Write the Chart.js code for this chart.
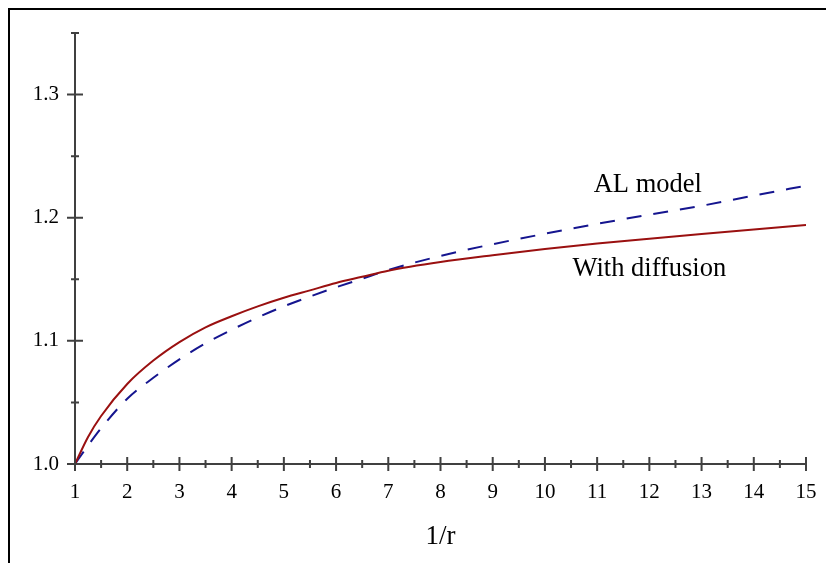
<!DOCTYPE html>
<html>
<head>
<meta charset="utf-8">
<script src="https://cdn.jsdelivr.net/npm/chart.js@4/dist/chart.umd.min.js"></script>
<style>
  html, body { margin: 0; padding: 0; background: #fff; overflow: hidden; }
  #wrap { width: 826px; height: 563px; position: relative; }
</style>
</head>
<body>
<div id="wrap"><canvas id="plot" width="826" height="563"></canvas></div>
<script>
// 1/r values and the two curves
const xValues = [1, 1.25, 1.5, 2, 2.5, 3, 3.5, 4, 4.5, 5, 5.5, 6, 6.5, 7, 8, 9, 10, 11, 12, 13, 14, 15];
const withDiffusion = [1.000, 1.022, 1.039, 1.065, 1.084, 1.099, 1.111, 1.120, 1.128, 1.135, 1.141, 1.147, 1.152, 1.157,
    1.164, 1.1695, 1.1745, 1.179, 1.183, 1.1868, 1.1905, 1.194];
const alModel = [1.000, 1.015, 1.029, 1.053, 1.070, 1.085, 1.098, 1.109, 1.119, 1.128, 1.136, 1.1435, 1.1505, 1.1575,
    1.169, 1.1785, 1.187, 1.195, 1.2025, 1.2097, 1.218, 1.226];

const xTicks = [1, 2, 3, 4, 5, 6, 7, 8, 9, 10, 11, 12, 13, 14, 15];
const xMinorTicks = [1.5, 2.5, 3.5, 4.5, 5.5, 6.5, 7.5, 8.5, 9.5, 10.5, 11.5, 12.5, 13.5, 14.5];
const yTicks = [1.0, 1.1, 1.2, 1.3];
const yMinorTicks = [1.05, 1.15, 1.25, 1.35];

// curve captions, placed in data coordinates
const captions = [
    { text: 'AL model', x: 11.97, y: 1.2268 },
    { text: 'With diffusion', x: 12.0, y: 1.158 }
];

const SERIF = '"Liberation Serif", "DejaVu Serif", Times, serif';
const AXIS_COLOR = '#404040';

const framePlugin = {
    id: 'frame',
    beforeDraw(chart) {
        const ctx = chart.ctx;
        ctx.save();
        ctx.fillStyle = '#fff';
        ctx.fillRect(0, 0, chart.width, chart.height);
        ctx.fillStyle = '#000';
        ctx.fillRect(8, 8, chart.width - 8, 2);
        ctx.fillRect(8, 8, 2, chart.height - 8);
        ctx.restore();
    }
};

// ticks crossing the axes, like the original plot
const crossTicksPlugin = {
    id: 'crossTicks',
    afterDraw(chart) {
        const ctx = chart.ctx;
        const xs = chart.scales.x, ys = chart.scales.y;
        const x0 = xs.getPixelForValue(xTicks[0]);
        const y0 = ys.getPixelForValue(yTicks[0]);
        ctx.save();
        ctx.strokeStyle = AXIS_COLOR;
        ctx.lineWidth = 2;
        ctx.beginPath();
        xTicks.forEach(v => { const p = xs.getPixelForValue(v); ctx.moveTo(p, y0 - 7); ctx.lineTo(p, y0 + 7); });
        xMinorTicks.forEach(v => { const p = xs.getPixelForValue(v); ctx.moveTo(p, y0 - 4); ctx.lineTo(p, y0 + 4); });
        yTicks.forEach(v => { const p = ys.getPixelForValue(v); ctx.moveTo(x0 - 8, p); ctx.lineTo(x0 + 8, p); });
        yMinorTicks.forEach(v => { const p = ys.getPixelForValue(v); ctx.moveTo(x0 - 4, p); ctx.lineTo(x0 + 4, p); });
        ctx.stroke();

        ctx.fillStyle = '#000';
        ctx.font = '26.5px ' + SERIF;
        ctx.textAlign = 'center';
        ctx.textBaseline = 'middle';
        captions.forEach(c => ctx.fillText(c.text, xs.getPixelForValue(c.x), ys.getPixelForValue(c.y)));
        ctx.restore();
    }
};

const pts = (ys) => xValues.map((x, i) => ({ x: x, y: ys[i] }));

new Chart(document.getElementById('plot'), {
    type: 'line',
    data: {
        datasets: [
            {
                label: 'With diffusion',
                data: pts(withDiffusion),
                borderColor: '#9a1010',
                borderWidth: 2,
                pointRadius: 0,
                cubicInterpolationMode: 'monotone',
                fill: false
            },
            {
                label: 'AL model',
                data: pts(alModel),
                borderColor: '#15158f',
                borderWidth: 2,
                borderDash: [15, 12],
                pointRadius: 0,
                cubicInterpolationMode: 'monotone',
                fill: false
            }
        ]
    },
    options: {
        responsive: false,
        animation: false,
        devicePixelRatio: 1,
        layout: { padding: { left: 0, top: 33, right: 20, bottom: 0 } },
        plugins: { legend: { display: false }, tooltip: { enabled: false } },
        scales: {
            x: {
                type: 'linear',
                min: 1, max: 15,
                grid: { display: false },
                border: { display: true, color: AXIS_COLOR, width: 2 },
                afterBuildTicks: (s) => { s.ticks = xTicks.map(v => ({ value: v })); },
                afterFit: (s) => { s.height = 99; },
                ticks: {
                    color: '#000', padding: 8, maxRotation: 0, autoSkip: false,
                    font: { family: SERIF, size: 21 },
                    callback: (v) => String(v)
                },
                title: {
                    display: true, text: '1/r', color: '#000',
                    font: { family: SERIF, size: 27 },
                    padding: { top: 0, bottom: 10 }
                }
            },
            y: {
                type: 'linear',
                min: 1.0, max: 1.35,
                grid: { display: false },
                border: { display: true, color: AXIS_COLOR, width: 2 },
                afterBuildTicks: (s) => { s.ticks = yTicks.map(v => ({ value: v })); },
                afterFit: (s) => { s.width = 75; },
                ticks: {
                    color: '#000', padding: 8, autoSkip: false,
                    font: { family: SERIF, size: 21 },
                    callback: (v) => v.toFixed(1)
                }
            }
        }
    },
    plugins: [framePlugin, crossTicksPlugin]
});
</script>
</body>
</html>
